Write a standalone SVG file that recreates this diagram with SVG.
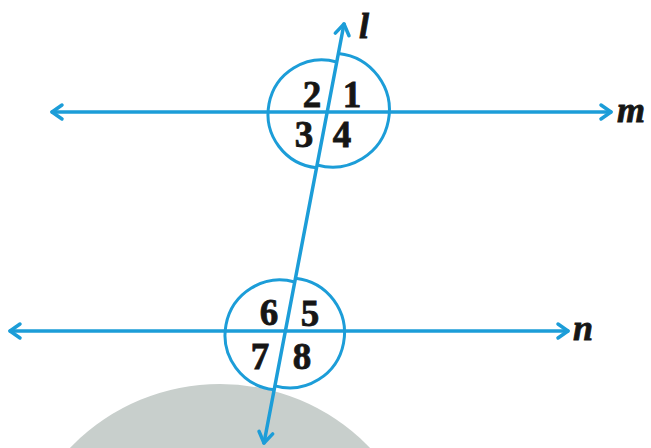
<svg xmlns="http://www.w3.org/2000/svg" width="651" height="448" viewBox="0 0 651 448">
  <style>
    .ln { stroke: #1c9dd8; stroke-width: 3.5; fill: none; stroke-linecap: round; stroke-linejoin: round; }
    .arc { stroke: #1c9dd8; stroke-width: 3; fill: none; }
    .num { font-family: "Liberation Serif", "Times New Roman", serif; font-weight: bold; font-size: 37px; fill: #161616; stroke: #161616; stroke-width: 0.8; text-anchor: middle; }
    .lab { font-family: "Liberation Serif", "Times New Roman", serif; font-weight: bold; font-style: italic; font-size: 36px; fill: #161616; stroke: #161616; stroke-width: 0.8; }
  </style>
  <rect width="651" height="448" fill="#ffffff"/>
  <circle id="backdrop" cx="220" cy="592" r="208" fill="#c8cfcc"/>

  <g id="circle-m">
    <path class="arc" d="M 336.7 62 A 54 54 0 1 0 316.6 167.7"/>
    <path class="arc" d="M 338.4 53.4 A 57 57 0 1 1 317.1 165"/>
  </g>
  <g id="circle-n">
    <path class="arc" d="M 294.7 282 A 55 55 0 1 0 274.2 389.7"/>
    <path class="arc" d="M 295.5 278.2 A 55 55 0 1 1 274.9 385.9"/>
  </g>

  <g id="connectors">
    <g id="line-m">
      <line class="ln" x1="52" y1="112" x2="611" y2="112"/>
      <polyline class="ln" points="62,105 52,112 62,119"/>
      <polyline class="ln" points="601,105 611,112 601,119"/>
    </g>
    <g id="line-n">
      <line class="ln" x1="10" y1="331" x2="568" y2="331"/>
      <polyline class="ln" points="20,324 10,331 20,338"/>
      <polyline class="ln" points="558,324 568,331 558,338"/>
    </g>
    <g id="line-l">
      <line class="ln" x1="344" y1="24" x2="264" y2="443"/>
      <polyline class="ln" points="335.3,33.1 344,24 349,35.7"/>
      <polyline class="ln" points="259,431.3 264,443 272.7,433.9"/>
    </g>
  </g>

  <g id="angles">
    <text class="num" x="312" y="107">2</text>
    <text class="num" x="352" y="107">1</text>
    <text class="num" x="304" y="147">3</text>
    <text class="num" x="342" y="147">4</text>
    <text class="num" x="269" y="325">6</text>
    <text class="num" x="310" y="326">5</text>
    <text class="num" x="260" y="369">7</text>
    <text class="num" x="302" y="369">8</text>
  </g>

  <g id="labels">
    <text class="lab" x="359" y="38">l</text>
    <text class="lab" x="617" y="122">m</text>
    <text class="lab" x="573" y="340">n</text>
  </g>
</svg>
